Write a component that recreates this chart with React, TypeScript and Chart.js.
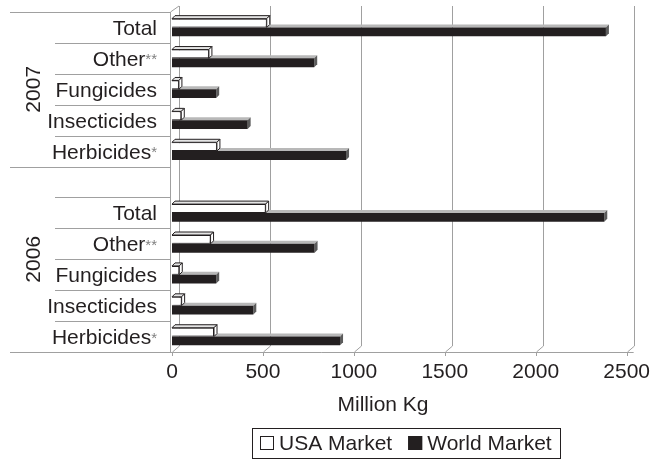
import React, { useEffect, useRef } from "react";
import { Chart, registerables } from "chart.js";

Chart.register(...registerables);

const categories = ["Total", "Other", "Fungicides", "Insecticides", "Herbicides"];
const superscripts = ["", "**", "", "", "*"];
const years = ["2007", "2006"];
const usa2007 = [521, 203, 38, 51, 247];
const world2007 = [2386, 782, 243, 416, 957];
const usa2006 = [515, 212, 40, 53, 231];
const world2006 = [2377, 784, 243, 447, 924];
const xTicks = [0, 500, 1000, 1500, 2000, 2500];
const seriesNames = ["USA Market", "World Market"];
const axisTitle = "Million Kg";

// rows from top to bottom (blank spacer row belongs to the 2006 group)
const rowLabels = [...categories, "", ...categories];
const rowSup = [...superscripts, "", ...superscripts];
const usaRows: (number | null)[] = [...usa2007, null, ...usa2006];
const worldRows: (number | null)[] = [...world2007, null, ...world2006];
const groups = [
  { label: years[0], from: 0, to: 4 },
  { label: years[1], from: 5, to: 10 },
];

const FONT = '"Liberation Sans", Arial, Helvetica, sans-serif';
const FS = 21;
const INK = "#231f20";
const GRID = "#a0a0a0";
const D = 3; // bar depth
const WX = 7; // wall depth x
const WY = 6; // wall depth y

function poly(ctx: CanvasRenderingContext2D, pts: number[][]) {
  ctx.beginPath();
  ctx.moveTo(pts[0][0], pts[0][1]);
  for (let i = 1; i < pts.length; i++) ctx.lineTo(pts[i][0], pts[i][1]);
  ctx.closePath();
}

const pseudo3d = {
  id: "pseudo3d",
  beforeDatasetsDraw(chart: any) {
    const ctx: CanvasRenderingContext2D = chart.ctx;
    const { left, top, bottom } = chart.chartArea;
    const xs = chart.scales.x;
    const ys = chart.scales.y;
    ctx.save();
    ctx.strokeStyle = GRID;
    ctx.lineWidth = 1;
    // back-wall grid lines with slanted floor connectors
    xTicks.forEach((v) => {
      const px = Math.round(xs.getPixelForValue(v)) + 0.5;
      ctx.beginPath();
      ctx.moveTo(px + WX, top - WY);
      ctx.lineTo(px + WX, bottom - WY);
      ctx.lineTo(px, bottom);
      ctx.lineTo(px, bottom + 4);
      ctx.stroke();
    });
    // front left axis and its top slant
    const ax = Math.round(left) - 1.5;
    ctx.beginPath();
    ctx.moveTo(ax + 1.5 + WX, top - WY);
    ctx.lineTo(ax, top);
    ctx.lineTo(ax, bottom);
    ctx.stroke();
    // bottom axis line
    const by = Math.round(bottom) + 0.5;
    ctx.beginPath();
    ctx.moveTo(10, by);
    ctx.lineTo(xs.getPixelForValue(2500) + WX, by);
    ctx.stroke();
    // category separators
    const band = ys.getPixelForValue(1) - ys.getPixelForValue(0);
    for (let i = 0; i <= rowLabels.length; i++) {
      const y = Math.round(ys.getPixelForValue(0) - band / 2 + i * band) + 0.5;
      const isGroup = i === 0 || groups.some((g) => g.to + 1 === i);
      ctx.beginPath();
      ctx.moveTo(isGroup ? 10 : 55, y);
      ctx.lineTo(ax, y);
      ctx.stroke();
    }
    // world bars: top and end faces (behind)
    const meta = chart.getDatasetMeta(1);
    meta.data.forEach((el: any, i: number) => {
      if (worldRows[i] == null) return;
      const { x, y, base, height } = el.getProps(["x", "y", "base", "height"], true);
      const t = y - height / 2;
      const b = y + height / 2;
      ctx.fillStyle = "#b8b8b8";
      poly(ctx, [[base, t], [x, t], [x + D, t - D], [base + D, t - D]]);
      ctx.fill();
      ctx.fillStyle = "#5c5c5c";
      poly(ctx, [[x, t], [x + D, t - D], [x + D, b - D], [x, b]]);
      ctx.fill();
    });
    ctx.restore();
  },
  afterDatasetsDraw(chart: any) {
    const ctx: CanvasRenderingContext2D = chart.ctx;
    ctx.save();
    const meta = chart.getDatasetMeta(0);
    ctx.strokeStyle = INK;
    ctx.lineWidth = 1;
    meta.data.forEach((el: any, i: number) => {
      if (usaRows[i] == null) return;
      const { x, y, base, height } = el.getProps(["x", "y", "base", "height"], true);
      const t = y - height / 2;
      const b = y + height / 2;
      ctx.fillStyle = "#e4e4e4";
      poly(ctx, [[base, t], [x, t], [x + D, t - D], [base + D, t - D]]);
      ctx.fill();
      ctx.stroke();
      ctx.fillStyle = "#ffffff";
      poly(ctx, [[x, t], [x + D, t - D], [x + D, b - D], [x, b]]);
      ctx.fill();
      ctx.stroke();
    });
    ctx.restore();
  },
  afterDraw(chart: any) {
    const ctx: CanvasRenderingContext2D = chart.ctx;
    const ys = chart.scales.y;
    const band = ys.getPixelForValue(1) - ys.getPixelForValue(0);
    ctx.save();
    // category labels
    const rightX = 157;
    rowLabels.forEach((lab, i) => {
      if (!lab) return;
      const y = ys.getPixelForValue(i);
      const sup = rowSup[i];
      ctx.font = `15px ${FONT}`;
      const sw = sup ? ctx.measureText(sup).width : 0;
      ctx.textBaseline = "alphabetic";
      ctx.font = `${FS}px ${FONT}`;
      ctx.textAlign = "right";
      ctx.fillStyle = INK;
      ctx.fillText(lab, rightX - sw, y + 7.5);
      if (sup) {
        ctx.font = `15px ${FONT}`;
        ctx.textAlign = "left";
        ctx.fillStyle = "#808080";
        ctx.fillText(sup, rightX - sw, y + 6);
      }
    });
    // year labels (rotated)
    groups.forEach((g) => {
      const y0 = ys.getPixelForValue(g.from) - band / 2;
      const y1 = ys.getPixelForValue(g.to) + band / 2;
      ctx.save();
      ctx.translate(34, (y0 + y1) / 2);
      ctx.rotate(-Math.PI / 2);
      ctx.font = `${FS}px ${FONT}`;
      ctx.fillStyle = INK;
      ctx.textAlign = "center";
      ctx.textBaseline = "middle";
      ctx.fillText(g.label, 0, 0);
      ctx.restore();
    });
    // axis title
    ctx.font = `${FS}px ${FONT}`;
    ctx.fillStyle = INK;
    ctx.textAlign = "center";
    ctx.textBaseline = "middle";
    ctx.fillText(axisTitle, 383, 405);
    // legend
    const sq = 14;
    const gap = 5;
    const itemGap = 16;
    const pad = 8;
    const w0 = ctx.measureText(seriesNames[0]).width;
    const w1 = ctx.measureText(seriesNames[1]).width;
    const total = sq + gap + w0 + itemGap + sq + gap + w1;
    const cx = 406;
    const cy = 443;
    const lx = Math.round(cx - total / 2);
    ctx.strokeStyle = INK;
    ctx.lineWidth = 1;
    ctx.strokeRect(lx - pad + 0.5, 428.5, Math.round(total + 2 * pad), 30);
    const fills = ["#ffffff", INK];
    let px = lx;
    [w0, w1].forEach((w, k) => {
      ctx.fillStyle = fills[k];
      ctx.fillRect(px, cy - sq / 2, sq, sq);
      ctx.strokeRect(px + 0.5, cy - sq / 2 + 0.5, sq - 1, sq - 1);
      ctx.fillStyle = INK;
      ctx.textAlign = "left";
      ctx.fillText(seriesNames[k], px + sq + gap, cy + 1);
      px += sq + gap + w + itemGap;
    });
    ctx.restore();
  },
};

export default function App() {
  const ref = useRef<HTMLCanvasElement | null>(null);
  useEffect(() => {
    if (!ref.current) return;
    const chart = new Chart(ref.current, {
      type: "bar",
      data: {
        labels: rowLabels,
        datasets: [
          {
            label: seriesNames[0],
            data: usaRows,
            backgroundColor: "#ffffff",
            borderColor: INK,
            borderWidth: 1,
            categoryPercentage: 0.57,
            barPercentage: 1,
          },
          {
            label: seriesNames[1],
            data: worldRows,
            backgroundColor: INK,
            borderWidth: 0,
            categoryPercentage: 0.57,
            barPercentage: 1,
          },
        ],
      },
      options: {
        indexAxis: "y",
        responsive: false,
        animation: false,
        devicePixelRatio: 1,
        layout: { padding: { top: 12, right: 28, left: 0, bottom: 0 } },
        plugins: { legend: { display: false }, tooltip: { enabled: false } },
        scales: {
          x: {
            min: 0,
            max: 2500,
            afterBuildTicks: (s: any) => {
              s.ticks = xTicks.map((v) => ({ value: v }));
            },
            afterFit: (s: any) => {
              s.height = 108;
            },
            grid: { display: false, drawTicks: false },
            border: { display: false },
            ticks: {
              color: INK,
              font: { family: FONT, size: FS },
              padding: 8,
              maxRotation: 0,
              callback: (v: any) => String(v),
            },
          },
          y: {
            afterFit: (s: any) => {
              s.width = 172;
            },
            grid: { display: false, drawTicks: false },
            border: { display: false },
            ticks: { display: false },
          },
        },
      },
      plugins: [pseudo3d],
    });
    return () => chart.destroy();
  }, []);
  return (
    <div style={{ position: "fixed", left: 0, top: 0, width: 658, height: 460, background: "#fff" }}>
      <canvas ref={ref} width={658} height={460} />
    </div>
  );
}
